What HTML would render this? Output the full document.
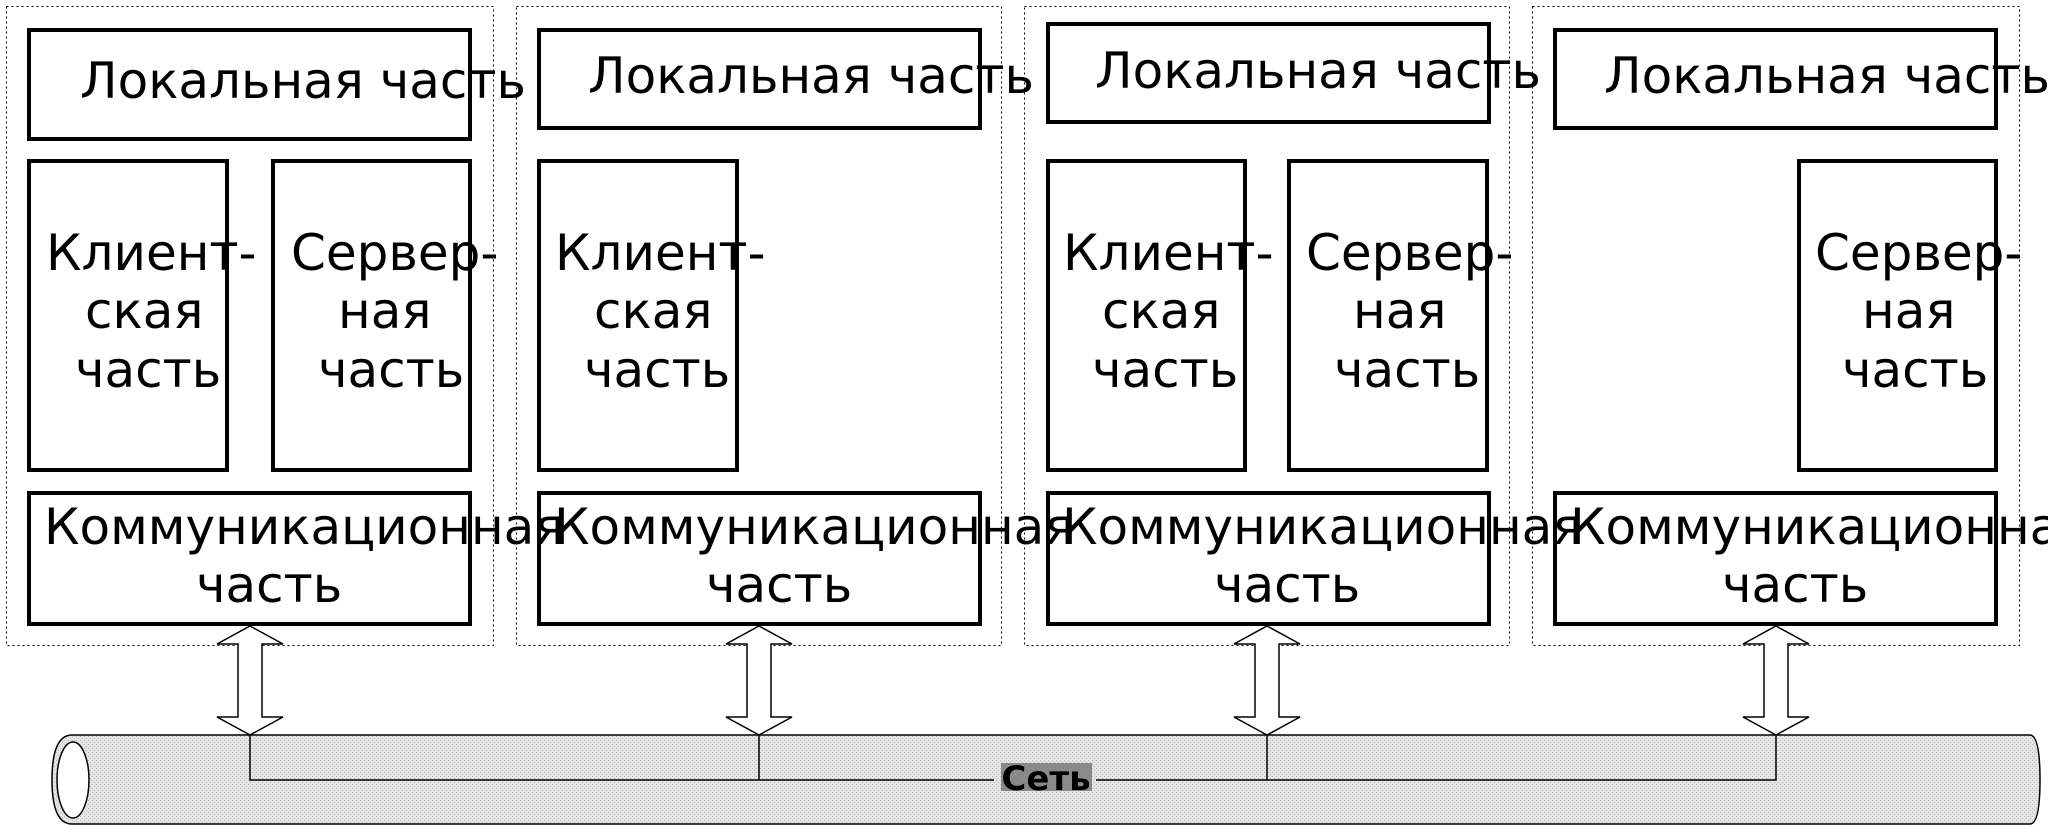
<!DOCTYPE html>
<html><head><meta charset="utf-8"><style>
html,body{margin:0;padding:0;background:#fff}
svg{display:block}
text{font-family:"DejaVu Sans","Liberation Sans",sans-serif;font-size:50px;fill:#000}
</style></head><body>
<svg width="2048" height="832" viewBox="0 0 2048 832" xmlns="http://www.w3.org/2000/svg">
<defs>
<pattern id="dots" width="4" height="4" patternUnits="userSpaceOnUse">
<rect width="4" height="4" fill="#e4e4e4"/><rect width="1" height="1" fill="#bbb"/><rect x="2" y="2" width="1" height="1" fill="#bbb"/>
</pattern>
</defs>
<g fill="none" stroke="#000" stroke-width="1" stroke-dasharray="2,3">
<rect x="6.5" y="6.5" width="487" height="639"/>
<rect x="516.5" y="6.5" width="485" height="639"/>
<rect x="1024.5" y="6.5" width="485" height="639"/>
<rect x="1532.5" y="6.5" width="487" height="639"/>
</g>
<g fill="none" stroke="#000" stroke-width="4">
<rect x="29" y="30" width="441" height="109"/>
<rect x="29" y="161" width="198" height="309"/>
<rect x="273" y="161" width="197" height="309"/>
<rect x="29" y="493" width="441" height="131"/>
<rect x="539" y="30" width="441" height="98"/>
<rect x="539" y="161" width="198" height="309"/>
<rect x="539" y="493" width="441" height="131"/>
<rect x="1048" y="24" width="441" height="98"/>
<rect x="1048" y="161" width="197" height="309"/>
<rect x="1289" y="161" width="198" height="309"/>
<rect x="1048" y="493" width="441" height="131"/>
<rect x="1555" y="30" width="441" height="98"/>
<rect x="1799" y="161" width="197" height="309"/>
<rect x="1555" y="493" width="441" height="131"/>
</g>
<text x="80" y="98">Локальная часть</text>
<text x="46" y="270">Клиент-</text><text x="85" y="328">ская</text><text x="75" y="387">часть</text>
<text x="291" y="270">Сервер-</text><text x="338" y="328">ная</text><text x="318" y="387">часть</text>
<text x="44" y="544">Коммуникационная</text><text x="196" y="602">часть</text>
<text x="588" y="93">Локальная часть</text>
<text x="555" y="270">Клиент-</text><text x="594" y="328">ская</text><text x="584" y="387">часть</text>
<text x="554" y="544">Коммуникационная</text><text x="706" y="602">часть</text>
<text x="1095" y="88">Локальная часть</text>
<text x="1063" y="270">Клиент-</text><text x="1102" y="328">ская</text><text x="1092" y="387">часть</text>
<text x="1306" y="270">Сервер-</text><text x="1353" y="328">ная</text><text x="1334" y="387">часть</text>
<text x="1062" y="544">Коммуникационная</text><text x="1214" y="602">часть</text>
<text x="1604" y="93">Локальная часть</text>
<text x="1815" y="270">Сервер-</text><text x="1862" y="328">ная</text><text x="1842" y="387">часть</text>
<text x="1570" y="544">Коммуникационная</text><text x="1722" y="602">часть</text>
<path d="M72 735 H2030 Q2040 735 2040 780 Q2040 824 2030 824 H72 Q52 824 52 780 Q52 735 72 735 Z" fill="url(#dots)" stroke="#000" stroke-width="1.5"/>
<ellipse cx="73" cy="780" rx="16" ry="38" fill="#fff" stroke="#000" stroke-width="1.5"/>
<path d="M250 735 V780 H994 M1096 780 H1776 V735 M759 735 V780 M1267 735 V780" fill="none" stroke="#000" stroke-width="1.5"/>
<g fill="#fff" stroke="#000" stroke-width="1.5">
<path d="M250 626 L283 644 L262 644 L262 717 L283 717 L250 735 L217 717 L238 717 L238 644 L217 644 Z"/>
<path transform="translate(509,0)" d="M250 626 L283 644 L262 644 L262 717 L283 717 L250 735 L217 717 L238 717 L238 644 L217 644 Z"/>
<path transform="translate(1017,0)" d="M250 626 L283 644 L262 644 L262 717 L283 717 L250 735 L217 717 L238 717 L238 644 L217 644 Z"/>
<path transform="translate(1526,0)" d="M250 626 L283 644 L262 644 L262 717 L283 717 L250 735 L217 717 L238 717 L238 644 L217 644 Z"/>
</g>
<rect x="1001" y="763" width="91" height="28" fill="#8a8a8a"/>
<text x="1046" y="790" text-anchor="middle" style="font-size:34px;font-weight:bold;font-family:'DejaVu Sans',sans-serif">Сеть</text>
</svg>
</body></html>
